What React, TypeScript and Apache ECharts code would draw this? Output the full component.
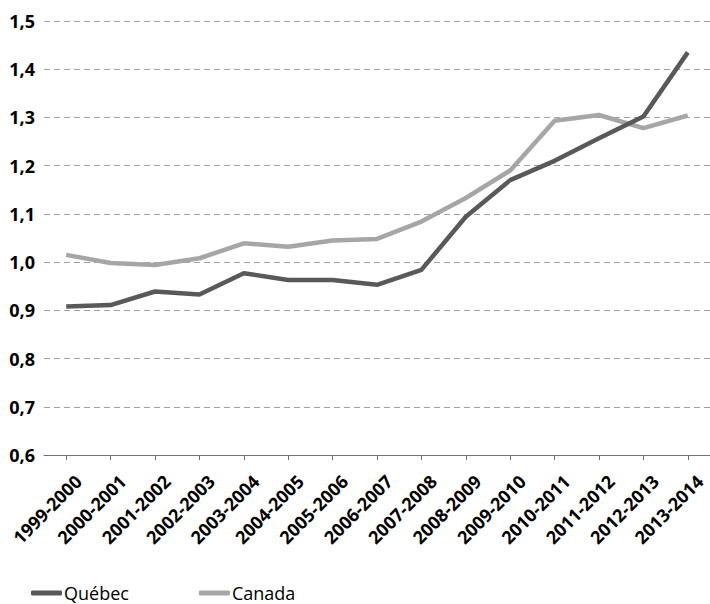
import React, { useEffect, useRef } from "react";
import * as echarts from "echarts";

const categories = [
  "1999-2000", "2000-2001", "2001-2002", "2002-2003", "2003-2004",
  "2004-2005", "2005-2006", "2006-2007", "2007-2008", "2008-2009",
  "2009-2010", "2010-2011", "2011-2012", "2012-2013", "2013-2014",
];

const quebec = [0.908, 0.911, 0.939, 0.933, 0.977, 0.963, 0.963, 0.953, 0.984, 1.094, 1.170, 1.210, 1.257, 1.302, 1.435];
const canada = [1.015, 0.998, 0.994, 1.008, 1.039, 1.032, 1.045, 1.048, 1.084, 1.133, 1.190, 1.293, 1.305, 1.278, 1.304];

const yMin = 0.6;
const yMax = 1.5;
const yStep = 0.1;

const FONT = "'Open Sans', Lato, sans-serif";

export default function App() {
  const ref = useRef<HTMLDivElement>(null);

  useEffect(() => {
    if (!ref.current) return;
    const chart = echarts.init(ref.current, undefined, { renderer: "svg" });
    chart.setOption({
      animation: false,
      backgroundColor: "#ffffff",
      textStyle: { fontFamily: FONT },
      grid: { left: 44, right: -2, top: 21, bottom: 149 },
      legend: {
        left: 26,
        top: 578,
        itemWidth: 31,
        itemHeight: 5,
        itemGap: 70,
        icon: "roundRect",
        textStyle: { fontFamily: FONT, fontSize: 18, color: "#000", padding: [0, 0, 0, -3], lineHeight: 20 },
        data: ["Québec", "Canada"],
      },
      xAxis: {
        type: "category",
        data: categories,
        boundaryGap: true,
        axisLine: { show: true, lineStyle: { color: "#707070", width: 1 } },
        axisTick: { show: true, alignWithLabel: true, length: 5, lineStyle: { color: "#707070" } },
        axisLabel: {
          rotate: 45,
          interval: 0,
          margin: 11,
          fontFamily: FONT,
          fontSize: 18,
          fontWeight: "bold",
          color: "#000",
          verticalAlign: "top",
          lineHeight: 20,
          padding: [7, 0, 0, 0],
        },
        splitLine: { show: false },
      },
      yAxis: {
        type: "value",
        min: yMin,
        max: yMax,
        interval: yStep,
        axisLine: { show: false },
        axisTick: { show: false },
        axisLabel: {
          margin: 9,
          fontFamily: FONT,
          fontSize: 18,
          fontWeight: "bold",
          color: "#000",
          formatter: (v: number) => v.toFixed(1).replace(".", ","),
        },
        splitLine: { show: true, lineStyle: { color: "#a0a0a0", type: [6, 4], width: 1 } },
      },
      series: [
        {
          name: "Québec",
          type: "line",
          data: quebec,
          symbol: "none",
          z: 3,
          itemStyle: { color: "#595959" },
          lineStyle: { color: "#595959", width: 4.5 },
        },
        {
          name: "Canada",
          type: "line",
          data: canada,
          symbol: "none",
          z: 2,
          itemStyle: { color: "#a6a6a6" },
          lineStyle: { color: "#a6a6a6", width: 4.5 },
        },
      ],
    });
    return () => chart.dispose();
  }, []);

  return <div ref={ref} style={{ width: 710, height: 604, position: "absolute", left: 0, top: 0 }} />;
}
